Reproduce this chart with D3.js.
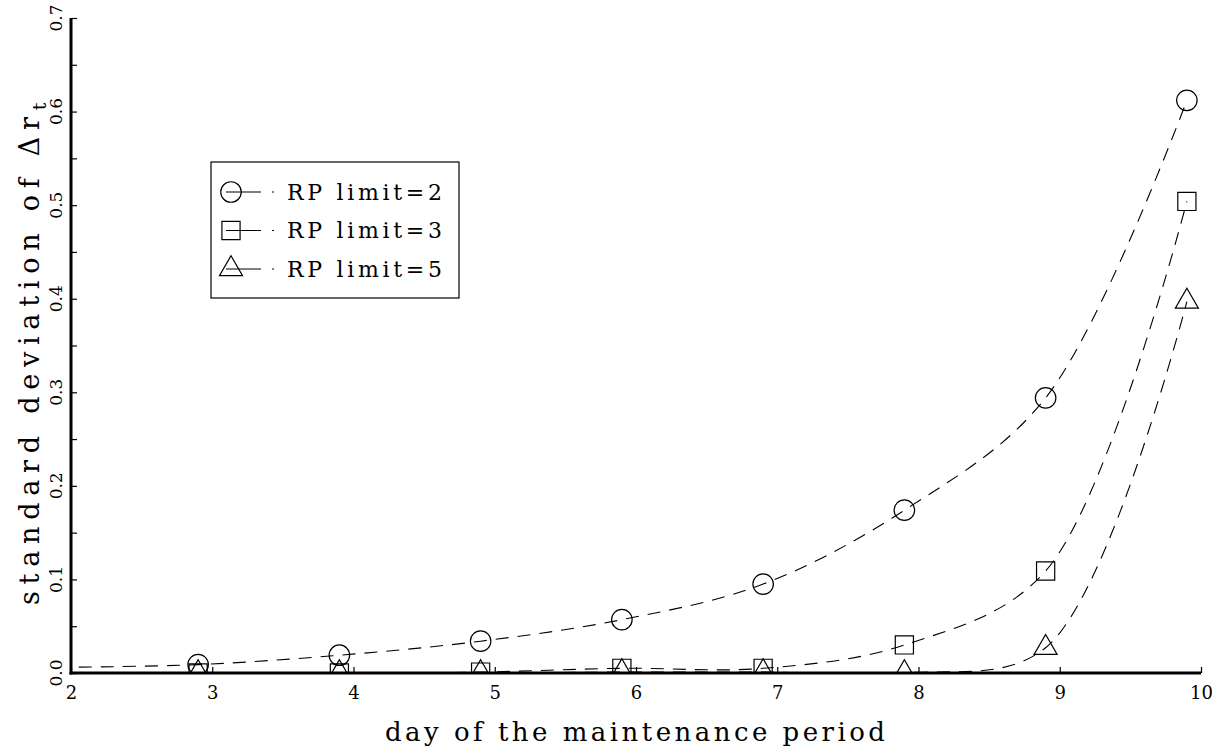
<!DOCTYPE html>
<html>
<head>
<meta charset="utf-8">
<script src="https://cdn.jsdelivr.net/npm/d3@7"></script>
<style>
  body { margin: 0; background: #fff; }
  svg { display: block; }
  text { font-family: "DejaVu Serif", "Liberation Serif", serif; fill: #000; }
</style>
</head>
<body>
<div id="chart"></div>
<script>
// day of the maintenance period (first point lies left of the axis and is clipped)
const days = [1.9, 2.9, 3.9, 4.9, 5.9, 6.9, 7.9, 8.9, 9.9];
const limit2 = [0.006, 0.009, 0.019, 0.034, 0.057, 0.095, 0.174, 0.294, 0.612];
const limit3 = [0.000, 0.000, 0.000, 0.001, 0.005, 0.005, 0.030, 0.109, 0.504];
const limit5 = [0.000, 0.000, 0.000, 0.000, 0.001, 0.001, 0.000, 0.027, 0.397];
const seriesNames = ["RP limit=2", "RP limit=3", "RP limit=5"];
const seriesShapes = ["circle", "square", "triangle"];
const xTicks = [2, 3, 4, 5, 6, 7, 8, 9, 10];
const yTicks = [0.0, 0.1, 0.2, 0.3, 0.4, 0.5, 0.6, 0.7];

const W = 1226, H = 756;
const margin = {top: 18, right: 25, bottom: 83, left: 71};
const width = W - margin.left - margin.right,
      height = H - margin.top - margin.bottom;

const svg = d3.select("#chart").append("svg")
    .attr("width", W)
    .attr("height", H);

const g = svg.append("g")
    .attr("transform", "translate(" + margin.left + "," + margin.top + ")");

const x = d3.scaleLinear().domain([2, 10]).range([0, width]);
const y = d3.scaleLinear().domain([0, 0.7]).range([height, 0]);

g.append("clipPath").attr("id", "plot")
  .append("rect").attr("x", 0).attr("y", -15).attr("width", width).attr("height", height + 15);

const series = [limit2, limit3, limit5].map((vals, i) => ({
    name: seriesNames[i],
    shape: seriesShapes[i],
    points: days.map((d, j) => ({day: d, v: vals[j]}))
}));

const line = d3.line()
    .x(d => x(d.day))
    .y(d => y(d.v))
    .curve(d3.curveCatmullRom.alpha(0.5));

const plot = g.append("g").attr("clip-path", "url(#plot)");

const symbolPath = {
    circle: d3.symbol(d3.symbolCircle, 330)(),
    square: d3.symbol(d3.symbolSquare, 330)(),
    triangle: d3.symbol(d3.symbolTriangle, 230)()
};

series.forEach(s => {
    plot.append("path")
        .datum(s.points)
        .attr("d", line)
        .attr("fill", "none")
        .attr("stroke", "#000")
        .attr("stroke-width", 1.1)
        .attr("stroke-dasharray", "13,9");

    plot.selectAll(null)
        .data(s.points)
        .join("path")
        .attr("transform", d => "translate(" + x(d.day) + "," + y(d.v) + ")")
        .attr("d", symbolPath[s.shape])
        .attr("fill", "none")
        .attr("stroke", "#000")
        .attr("stroke-width", 1.2);
});

// axes
const xAxis = g.append("g")
    .attr("transform", "translate(0," + height + ")")
    .call(d3.axisBottom(x).tickValues(xTicks).tickSize(-6).tickPadding(11).tickFormat(d3.format("d")));
xAxis.select(".domain").remove();
xAxis.selectAll("line").attr("stroke", "#000").attr("stroke-width", 1.2);
xAxis.selectAll("text").attr("font-size", 18).attr("dy", "0.85em")
    .attr("font-family", "DejaVu Serif");

const yAxis = g.append("g")
    .call(d3.axisLeft(y).ticks(14).tickSize(-6).tickFormat(""));
yAxis.select(".domain").remove();
yAxis.selectAll("line").attr("stroke", "#000").attr("stroke-width", 1.2);

g.append("g").selectAll("text")
    .data(yTicks)
    .join("text")
    .attr("transform", d => "translate(-9," + y(d) + ") rotate(-90)")
    .attr("text-anchor", "middle")
    .attr("font-size", 17)
    .text(d => d3.format(".1f")(d));

g.append("line")
    .attr("x1", 0).attr("x2", 0).attr("y1", 0).attr("y2", height + 1.5)
    .attr("stroke", "#000").attr("stroke-width", 3);
g.append("line")
    .attr("x1", -1.5).attr("x2", width).attr("y1", height).attr("y2", height)
    .attr("stroke", "#000").attr("stroke-width", 3);

// axis titles
svg.append("text")
    .attr("x", 385)
    .attr("y", 741)
    .attr("font-size", 26)
    .attr("textLength", 500)
    .attr("lengthAdjust", "spacing")
    .text("day of the maintenance period");

const yt = svg.append("text")
    .attr("transform", "translate(39,605) rotate(-90)")
    .attr("font-size", 27);
yt.append("tspan").attr("textLength", 488).attr("lengthAdjust", "spacing")
    .text("standard deviation of \u0394r");
yt.append("tspan").attr("dy", 7).attr("font-size", 19).text("t");

// legend
const lg = svg.append("g").attr("transform", "translate(211,162)");
lg.append("rect")
    .attr("width", 248).attr("height", 136)
    .attr("fill", "#fff").attr("stroke", "#000").attr("stroke-width", 1.2);

const rows = lg.selectAll("g.row")
    .data(series)
    .join("g")
    .attr("class", "row")
    .attr("transform", (d, i) => "translate(20," + (30 + i * 38.5) + ")");

rows.append("path")
    .attr("d", d => symbolPath[d.shape])
    .attr("fill", "none").attr("stroke", "#000").attr("stroke-width", 1.2);
rows.append("line")
    .attr("x1", -5).attr("x2", 48)
    .attr("stroke", "#000").attr("stroke-width", 1.1)
    .attr("stroke-dasharray", "35,11,2,100");
rows.append("text")
    .attr("x", 56)
    .attr("dy", "0.36em")
    .attr("font-size", 22)
    .attr("textLength", 155)
    .attr("lengthAdjust", "spacing")
    .text(d => d.name);
</script>
</body>
</html>
